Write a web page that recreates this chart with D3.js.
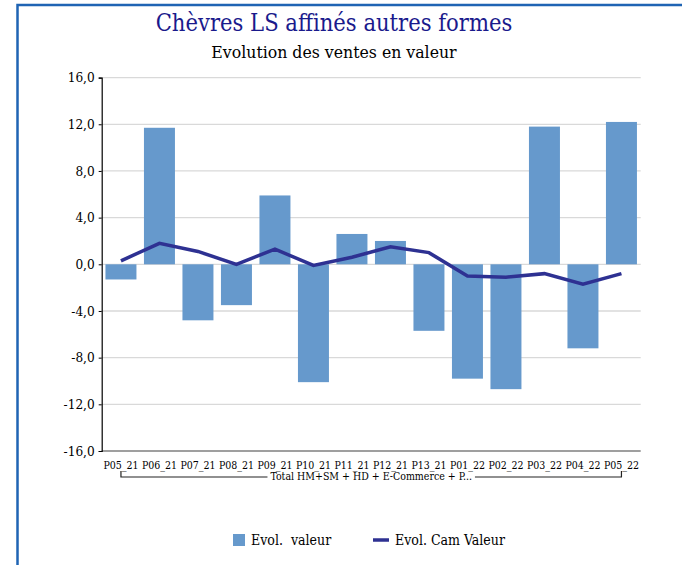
<!DOCTYPE html>
<html>
<head>
<meta charset="utf-8">
<script src="https://cdn.jsdelivr.net/npm/d3@7"></script>
<style>
  body { margin: 0; background: #fff; }
  svg { display: block; }
  text { font-family: "DejaVu Serif Condensed", "DejaVu Serif", serif; }
</style>
</head>
<body>
<svg width="682" height="565"></svg>
<script>
const periods = ["P05_21", "P06_21", "P07_21", "P08_21", "P09_21", "P10_21", "P11_21",
    "P12_21", "P13_21", "P01_22", "P02_22", "P03_22", "P04_22", "P05_22"];
const evolValeur = [-1.3, 11.7, -4.8, -3.5, 5.9, -10.1, 2.6, 2.0, -5.7, -9.8, -10.7, 11.8, -7.2, 12.2];
const evolCamValeur = [0.3, 1.8, 1.1, 0.0, 1.3, -0.1, 0.6, 1.5, 1.0, -1.0, -1.1, -0.8, -1.7, -0.8];
const yTicks = [-16, -12, -8, -4, 0, 4, 8, 12, 16];
const groupLabel = "Total HM+SM + HD + E-Commerce + P...";

const svg = d3.select("svg");
const plot = { left: 101.7, right: 640.7, top: 77.6, bottom: 451 };

const fr = d3.formatLocale({ decimal: ",", thousands: " ", grouping: [3], currency: ["", "€"], minus: "-" });
const fmt = fr.format(".1f");

const x = d3.scaleBand()
    .domain(periods)
    .range([plot.left, plot.right])
    .paddingInner(0.195)
    .paddingOuter(0.0975);

const y = d3.scaleLinear()
    .domain([-16, 16])
    .range([plot.bottom, plot.top]);

// cadre
svg.append("rect")
    .attr("x", 17.5).attr("y", 5)
    .attr("width", 700).attr("height", 600)
    .attr("fill", "#fff")
    .attr("stroke", "#1f64b4")
    .attr("stroke-width", 2.5);

svg.append("text")
    .attr("x", 334).attr("y", 31)
    .attr("text-anchor", "middle")
    .attr("fill", "#1a1a8c")
    .attr("font-size", 23.5)
    .text("Chèvres LS affinés autres formes");

svg.append("text")
    .attr("x", 334).attr("y", 58)
    .attr("text-anchor", "middle")
    .attr("fill", "#000")
    .attr("font-size", 17.5)
    .text("Evolution des ventes en valeur");

// grille
svg.append("g")
    .selectAll("line")
    .data(yTicks)
    .join("line")
    .attr("x1", plot.left).attr("x2", plot.right)
    .attr("y1", d => y(d)).attr("y2", d => y(d))
    .attr("stroke", d => d === -16 ? "#7f7f7f" : "#d9d9d9")
    .attr("stroke-width", d => d === -16 ? 1.5 : 1.3);

// axe Y
const yAxis = svg.append("g")
    .attr("transform", `translate(${plot.left},0)`)
    .call(d3.axisLeft(y).tickValues(yTicks).tickFormat(fmt).tickSize(3).tickPadding(4));
yAxis.select(".domain").attr("stroke", "#000").attr("stroke-width", 1.2);
yAxis.selectAll("text").attr("font-size", 13.5).attr("fill", "#000")
    .style("font-family", "'DejaVu Serif Condensed', 'DejaVu Serif', serif");

// barres
svg.append("g")
    .selectAll("rect")
    .data(evolValeur)
    .join("rect")
    .attr("x", (d, i) => x(periods[i]))
    .attr("width", x.bandwidth())
    .attr("y", d => y(Math.max(0, d)))
    .attr("height", d => Math.abs(y(d) - y(0)))
    .attr("fill", "#6699cc");

// courbe
const line = d3.line()
    .x((d, i) => x(periods[i]) + x.bandwidth() / 2)
    .y(d => y(d));

svg.append("path")
    .datum(evolCamValeur)
    .attr("d", line)
    .attr("fill", "none")
    .attr("stroke", "#2e3192")
    .attr("stroke-width", 3.5);

// axe X
const xAxis = svg.append("g")
    .attr("transform", `translate(0,${plot.bottom})`)
    .call(d3.axisBottom(x).tickSize(0).tickPadding(11));
xAxis.select(".domain").remove();
xAxis.selectAll("text").attr("font-size", 10.5).attr("fill", "#000")
    .style("font-family", "'DejaVu Serif Condensed', 'DejaVu Serif', serif");

// accolade du groupe
const cx0 = x(periods[0]) + x.bandwidth() / 2;
const cx1 = x(periods[periods.length - 1]) + x.bandwidth() / 2;
const cMid = (plot.left + plot.right) / 2;
const gl = svg.append("text")
    .attr("x", cMid).attr("y", 480)
    .attr("text-anchor", "middle")
    .attr("font-size", 10.5).attr("fill", "#000")
    .text(groupLabel);
const gw = gl.node().getComputedTextLength();
svg.append("path")
    .attr("d", `M${cx0},471V477H${cMid - gw / 2 - 3}M${cMid + gw / 2 + 3},477H${cx1}V471`)
    .attr("fill", "none")
    .attr("stroke", "#222")
    .attr("stroke-width", 1.2);

// légende
const leg = svg.append("g");
leg.append("rect").attr("x", 233).attr("y", 534).attr("width", 12).attr("height", 12).attr("fill", "#6699cc");
leg.append("text").attr("x", 251).attr("y", 545).attr("font-size", 14).attr("fill", "#000")
    .attr("xml:space", "preserve").style("white-space", "pre").text("Evol.  valeur");
leg.append("line").attr("x1", 373).attr("x2", 389).attr("y1", 540).attr("y2", 540)
    .attr("stroke", "#2e3192").attr("stroke-width", 3.5);
leg.append("text").attr("x", 395).attr("y", 545).attr("font-size", 14).attr("fill", "#000")
    .text("Evol. Cam Valeur");
</script>
</body>
</html>
